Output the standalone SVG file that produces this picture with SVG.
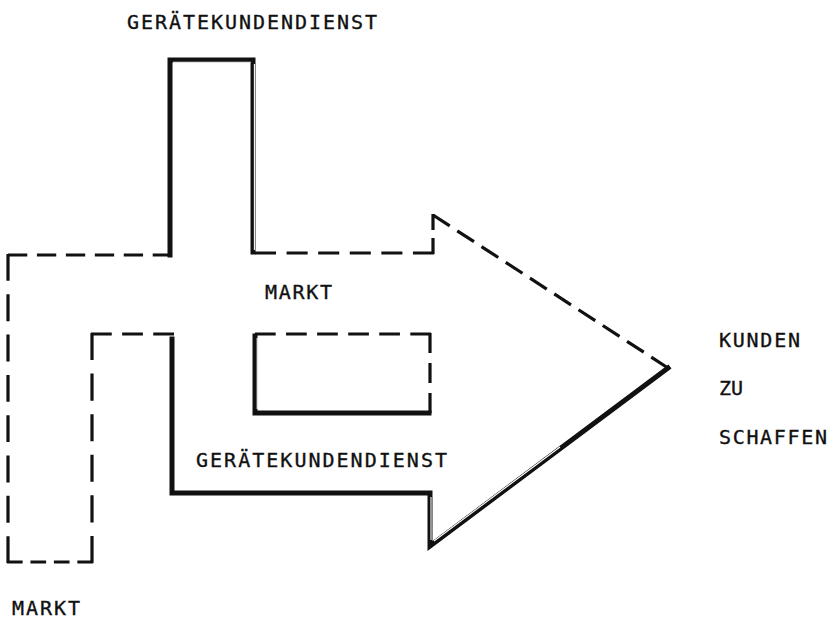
<svg xmlns="http://www.w3.org/2000/svg" width="838" height="622" viewBox="0 0 838 622">
<style>
.bg{fill:#fff}
.solid{fill:none;stroke:#111;stroke-width:5;stroke-linejoin:miter;stroke-linecap:square}
.hl{fill:none;stroke:#fff;stroke-width:1.1}
.dash{fill:none;stroke:#111;stroke-width:3.2;stroke-linecap:butt}
.dh{stroke-dasharray:18 9}
.dv{stroke-dasharray:26 13}
.dd{stroke-dasharray:20 9}
.t{font-family:"DejaVu Sans Mono","Liberation Mono",monospace;font-size:20px;fill:#111;stroke:#111;stroke-width:0.35}
</style>
<rect class="bg" x="0" y="0" width="838" height="622"/>
<g id="connectors">
  <line class="dash dh" x1="8" y1="255" x2="172" y2="255" pathLength="153"/>
  <line class="dash dv" x1="8" y1="254" x2="8" y2="563" pathLength="299"/>
  <line class="dash dh" x1="7" y1="562" x2="93" y2="562" pathLength="99"/>
  <line class="dash dv" x1="92" y1="563" x2="92" y2="333" pathLength="221"/>
  <line class="dash dh" x1="91" y1="334" x2="174" y2="334" pathLength="72"/>
  <line class="dash dh" x1="255" y1="253" x2="434" y2="253" pathLength="153"/>
  <line class="dash dh" x1="433" y1="254" x2="433" y2="214" pathLength="45"/>
  <line class="dash dd" x1="433" y1="215" x2="668" y2="368" pathLength="281"/>
  <line class="dash dh" x1="255" y1="334" x2="431" y2="334" pathLength="153"/>
  <line class="dash dh" x1="430" y1="333" x2="430" y2="413" pathLength="72"/>
  <path class="solid" d="M170,255 V60 H253 V252"/>
  <path class="hl" d="M173,62.2 H250.8 M254.4,64 V250"/>
  <path class="solid" d="M172,339 V493 H430 V546 L668,368"/>
  <path class="hl" d="M431,497 V540 M434,541 L560,447"/>
  <path class="solid" d="M255,336 V413 H429"/>
  <path class="hl" d="M257.2,338 V409"/>
</g>
<g id="label-top">
  <text class="t" x="127" y="29" textLength="250" lengthAdjust="spacing">GERÄTEKUNDENDIENST</text>
</g>
<g id="label-markt-mid">
  <text class="t" x="265" y="299" textLength="67" lengthAdjust="spacing">MARKT</text>
</g>
<g id="label-inner">
  <text class="t" x="196" y="467" textLength="251" lengthAdjust="spacing">GERÄTEKUNDENDIENST</text>
</g>
<g id="label-kunden">
  <text class="t" x="719" y="347" textLength="81" lengthAdjust="spacing">KUNDEN</text>
  <text class="t" x="719" y="395" textLength="24" lengthAdjust="spacing">ZU</text>
  <text class="t" x="719" y="444" textLength="108" lengthAdjust="spacing">SCHAFFEN</text>
</g>
<g id="label-markt-bottom">
  <text class="t" x="12" y="615" textLength="68" lengthAdjust="spacing">MARKT</text>
</g>
</svg>
